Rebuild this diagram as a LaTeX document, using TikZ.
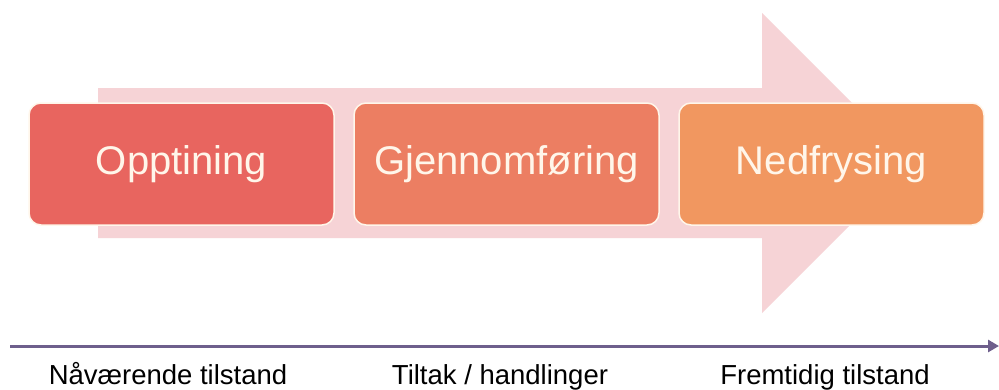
\documentclass[tikz,border=0pt]{standalone}
\usepackage{fontspec}
\setmainfont{Liberation Sans}
\usetikzlibrary{arrows.meta}
\definecolor{arrowpink}{HTML}{F6D3D6}
\definecolor{boxA}{HTML}{E8655F}
\definecolor{boxB}{HTML}{EC7E62}
\definecolor{boxC}{HTML}{F19760}
\definecolor{cream}{HTML}{FFF6EA}
\definecolor{axis}{HTML}{6E5F8C}
\tikzset{
  stagebox/.style={draw=cream, line width=1.5pt, rounded corners=12pt,
    minimum width=305pt, minimum height=122pt, inner sep=0pt,
    text=cream, font=\fontsize{40}{44}\selectfont},
  axislabel/.style={text=black, font=\fontsize{27.5}{30}\selectfont, anchor=base, inner sep=0pt}
}
\begin{document}
\begin{tikzpicture}[x=1pt,y=-1pt]
\useasboundingbox (0,0) rectangle (999,389);
\fill[white] (0,0) rectangle (999,389);
% big background arrow
\fill[arrowpink] (98,88) -- (762,88) -- (762,13) -- (912,163) -- (762,313) -- (762,238) -- (98,238) -- cycle;
% stage boxes
\node[stagebox, fill=boxA] (opp) at (181.5,164) {Opptining};
\node[stagebox, fill=boxB] (gjen) at (506.5,164) {Gjennomføring};
\node[stagebox, fill=boxC] (ned) at (831.5,164) {Nedfrysing};
% time axis
\coordinate (axstart) at (10,346);
\coordinate (axend) at (999,346);
\draw[axis, line width=3pt, -{Triangle[length=11pt,width=12pt]}] (axstart) -- (axend);
% axis labels
\node[axislabel] (lab1) at (168,384) {Nåværende tilstand};
\node[axislabel] (lab2) at (500,384) {Tiltak / handlinger};
\node[axislabel] (lab3) at (825,384) {Fremtidig tilstand};
\end{tikzpicture}
\end{document}
